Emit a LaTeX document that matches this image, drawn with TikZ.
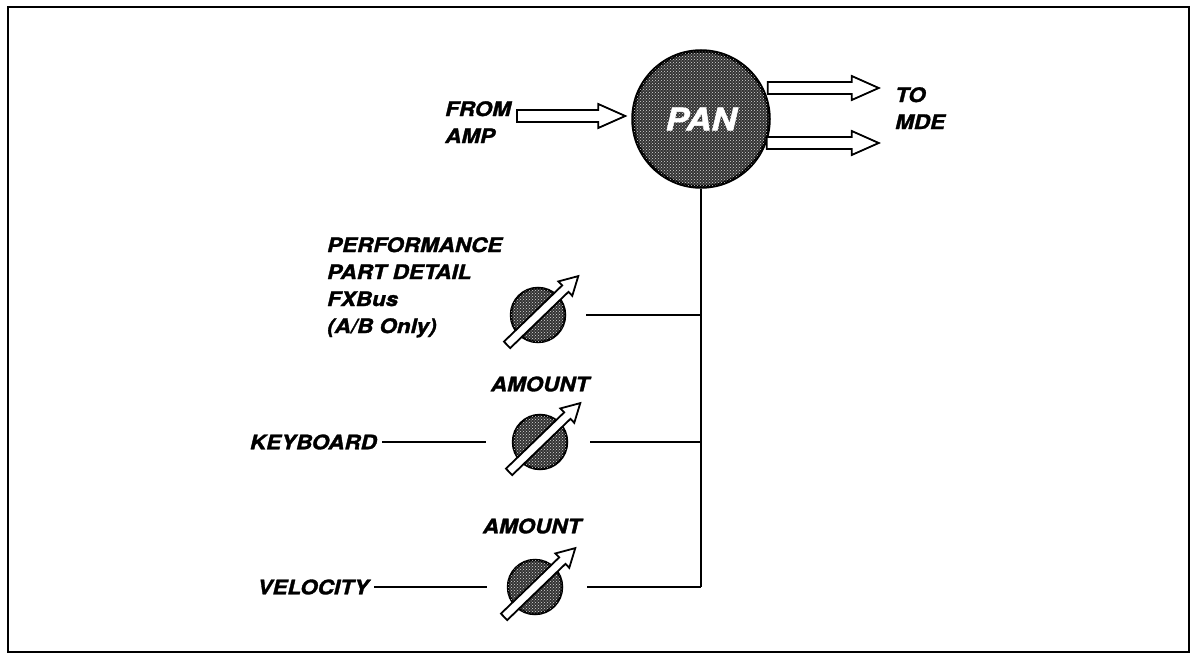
\documentclass[tikz,border=0pt]{standalone}
\usepackage{fontspec}
\newfontfamily\lbl[FakeStretch=1.12,FakeBold=1.6]{texgyreheros-bolditalic.otf}
\usetikzlibrary{calc,patterns}
\tikzset{
  lab/.style={font=\lbl\fontsize{20}{27}\selectfont, inner sep=0pt, align=left},
  wire/.style={line width=2pt},
  stipple/.style={fill=black!80, postaction={pattern=crosshatch dots, pattern color=white!85!black}},
  knob/.style={circle, minimum size=54pt, inner sep=0pt, stipple, draw=black, line width=2.5pt},
  hollow/.style={draw=black, fill=white, line width=1.8pt, line join=miter},
  frame/.style={line width=2.5pt},
}
\newcommand{\hollowarrow}[2]{%
  \draw[hollow] ($(#1)+(0,-6)$) -- ($(#2)+(-27,-6)$) -- ($(#2)+(-27,-12)$) -- (#2)
    -- ($(#2)+(-27,12)$) -- ($(#2)+(-27,6)$) -- ($(#1)+(0,6)$) -- cycle;}
\newcommand{\knobarrow}[1]{%
  \begin{scope}[shift={(#1)}, rotate=44]
    \draw[hollow] (-43,-4.5) -- (38,-4.5) -- (38,-10) -- (56,0) -- (38,10) -- (38,4.5) -- (-43,4.5) -- cycle;
  \end{scope}}
\begin{document}
\begin{tikzpicture}[x=1pt,y=-1pt]
  \useasboundingbox (0,0) rectangle (1193,655);
  \draw[frame] (8,7) rectangle (1189,652);

  % PAN
  \node[circle, minimum size=136pt, inner sep=0pt, stipple, draw=black, line width=3.5pt,
        text=white, font=\lbl\fontsize{31}{31}\selectfont] (pan) at (701,119) {PAN};

  % input
  \node[lab, anchor=north west] (from) at (445,101) {FROM\\AMP};
  \coordinate (inS) at (517,116);
  \coordinate (inT) at ($(pan.west)+(-6,-3)$);
  \hollowarrow{inS}{inT}

  % outputs
  \coordinate (o1S) at ($(pan.east)+(-3,-31)$);
  \coordinate (o1T) at ($(pan.east)+(108,-31)$);
  \coordinate (o2S) at ($(pan.east)+(-4,24)$);
  \coordinate (o2T) at ($(pan.east)+(108,24)$);
  \hollowarrow{o1S}{o1T}
  \hollowarrow{o2S}{o2T}
  \node[lab, anchor=north west] (to) at (895,87) {TO\\MDE};

  % knobs
  \node[knob] (k1) at (538,315) {};
  \node[knob] (k2) at (540,442) {};
  \node[knob] (k3) at (535,587) {};
  \knobarrow{k1}
  \knobarrow{k2}
  \knobarrow{k3}

  \node[lab, anchor=north west] (perf) at (327,237) {PERFORMANCE\\PART DETAIL\\FXBus\\(A/B Only)};
  \node[lab] (am2) at (540,384) {AMOUNT};
  \node[lab] (am3) at (532,526) {AMOUNT};
  \node[lab, anchor=east] (kb) at (377,442) {KEYBOARD};
  \node[lab, anchor=east] (vel) at (369,587) {VELOCITY};

  % wiring
  \draw[wire] (pan.south) -- (pan.south |- k3);
  \draw[wire] ($(k1.east)+(20,0)$) -- (k1 -| pan.south);
  \draw[wire] ($(k2.east)+(22,0)$) -- (k2 -| pan.south);
  \draw[wire] ($(k3.east)+(24,0)$) -- (k3 -| pan.south);
  \draw[wire] ($(kb.east)+(5,0)$) -- ($(k2.west)+(-26,0)$);
  \draw[wire] ($(vel.east)+(5,0)$) -- ($(k3.west)+(-20,0)$);
\end{tikzpicture}
\end{document}
